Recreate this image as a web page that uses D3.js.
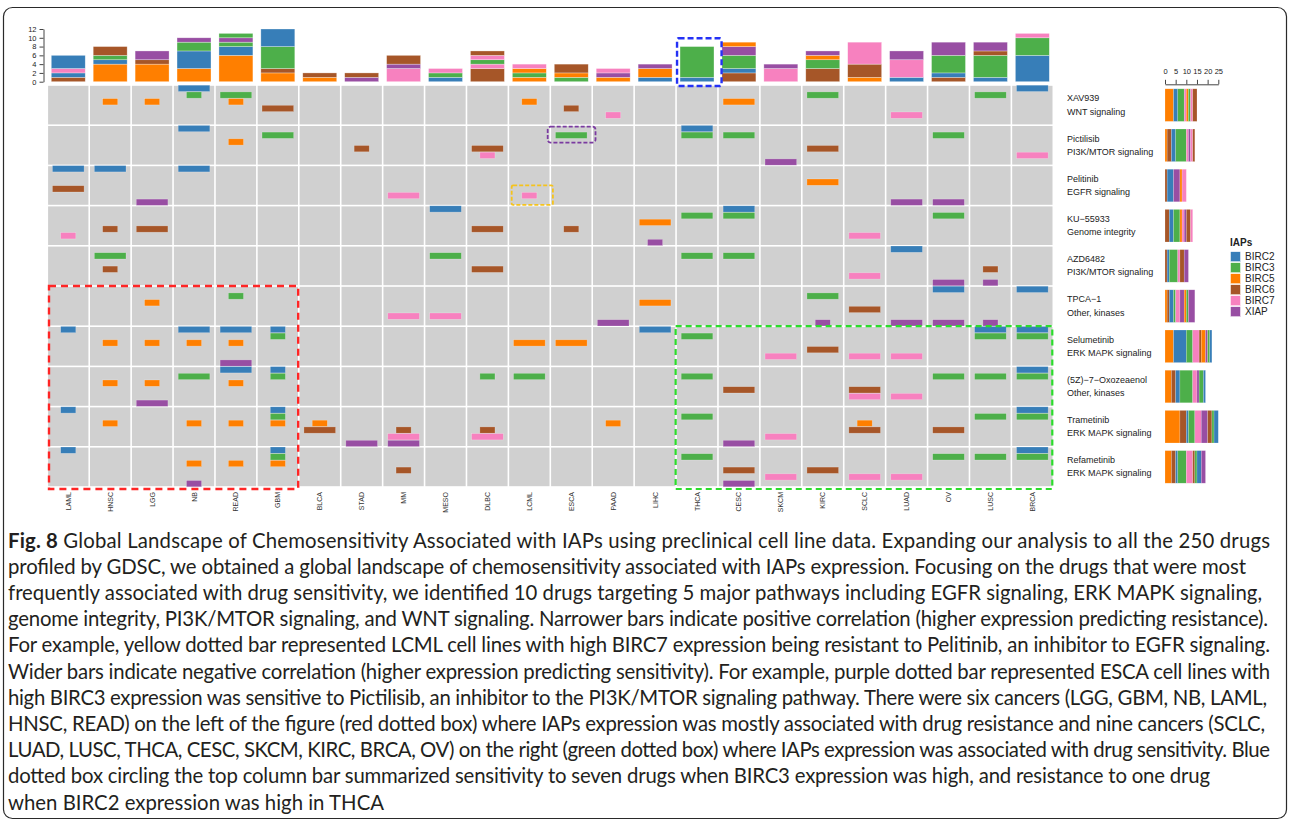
<!DOCTYPE html>
<html><head><meta charset="utf-8">
<script src="https://cdn.jsdelivr.net/npm/d3@7"></script>
<style>body{margin:0;background:#fff;} svg{display:block;}</style>
</head><body><svg id="c" width="1290" height="827"></svg>
<script>
// ---------------- DATA ----------------
const cancers = ["LAML","HNSC","LGG","NB","READ","GBM","BLCA","STAD","MM","MESO","DLBC","LCML","ESCA","PAAD","LIHC","THCA","CESC","SKCM","KIRC","SCLC","LUAD","OV","LUSC","BRCA"];
const drugs = ["XAV939","Pictilisib","Pelitinib","KU\u221255933","AZD6482","TPCA\u22121","Selumetinib","(5Z)\u22127\u2212Oxozeaenol","Trametinib","Refametinib"];
const pathways = ["WNT signaling","PI3K/MTOR signaling","EGFR signaling","Genome integrity","PI3K/MTOR signaling","Other, kinases","ERK MAPK signaling","Other, kinases","ERK MAPK signaling","ERK MAPK signaling"];
const iaps = ["BIRC2","BIRC3","BIRC5","BIRC6","BIRC7","XIAP"];
const iapColors = ["#377eb8","#4daf4a","#ff7f00","#a65628","#f781bf","#984ea3"];
// S = wider bar (negative correlation, sensitivity), R = narrower bar (positive correlation, resistance)
const hitsXAV939 = [["HNSC","BIRC5","R"],["LGG","BIRC5","R"],["NB","BIRC2","S"],["NB","BIRC3","R"],["READ","BIRC3","S"],["READ","BIRC5","R"],["GBM","BIRC6","S"],["LCML","BIRC5","R"],["ESCA","BIRC6","R"],["PAAD","BIRC7","R"],["CESC","BIRC5","S"],["KIRC","BIRC3","S"],["LUAD","BIRC7","S"],["LUSC","BIRC3","S"],["BRCA","BIRC2","S"]];
const hitsPictilisib = [["NB","BIRC2","S"],["READ","BIRC5","R"],["GBM","BIRC3","S"],["STAD","BIRC6","R"],["DLBC","BIRC6","S"],["DLBC","BIRC7","R"],["ESCA","BIRC3","S"],["THCA","BIRC2","S"],["THCA","BIRC3","S"],["CESC","BIRC3","S"],["SKCM","XIAP","S"],["KIRC","BIRC6","S"],["OV","BIRC3","S"],["BRCA","BIRC7","S"]];
const hitsPelitinib = [["LAML","BIRC2","S"],["LAML","BIRC6","S"],["HNSC","BIRC2","S"],["LGG","XIAP","S"],["NB","BIRC2","S"],["MM","BIRC7","S"],["LCML","BIRC7","R"],["KIRC","BIRC5","S"],["LUAD","XIAP","S"],["OV","XIAP","S"]];
const hitsKU55933 = [["LAML","BIRC7","R"],["HNSC","BIRC6","R"],["LGG","BIRC6","S"],["MESO","BIRC2","S"],["DLBC","BIRC6","S"],["ESCA","BIRC6","R"],["LIHC","BIRC5","S"],["LIHC","XIAP","R"],["THCA","BIRC3","S"],["CESC","BIRC2","S"],["CESC","BIRC3","S"],["SCLC","BIRC7","S"],["OV","BIRC3","S"]];
const hitsAZD6482 = [["HNSC","BIRC3","S"],["HNSC","BIRC6","R"],["MESO","BIRC3","S"],["DLBC","BIRC6","S"],["THCA","BIRC3","S"],["CESC","BIRC3","S"],["SCLC","BIRC7","S"],["LUAD","BIRC2","S"],["OV","XIAP","S"],["LUSC","BIRC6","R"],["LUSC","XIAP","R"]];
const hitsTPCA1 = [["LGG","BIRC5","R"],["READ","BIRC3","R"],["MM","BIRC7","S"],["MESO","BIRC7","S"],["PAAD","XIAP","S"],["LIHC","BIRC5","S"],["KIRC","BIRC3","S"],["KIRC","XIAP","R"],["SCLC","BIRC6","S"],["LUAD","XIAP","S"],["OV","BIRC2","S"],["OV","XIAP","S"],["LUSC","XIAP","R"],["BRCA","BIRC2","S"]];
const hitsSelumetinib = [["LAML","BIRC2","R"],["HNSC","BIRC5","R"],["LGG","BIRC5","R"],["NB","BIRC2","S"],["NB","BIRC5","R"],["READ","BIRC2","S"],["READ","BIRC5","R"],["READ","XIAP","S"],["GBM","BIRC2","R"],["GBM","BIRC3","R"],["LCML","BIRC5","S"],["ESCA","BIRC5","S"],["LIHC","BIRC2","S"],["THCA","BIRC3","S"],["SKCM","BIRC7","S"],["KIRC","BIRC6","S"],["SCLC","BIRC7","S"],["LUAD","BIRC7","S"],["LUSC","BIRC2","S"],["LUSC","BIRC3","S"],["BRCA","BIRC2","S"],["BRCA","BIRC3","S"]];
const hitsOxozeaenol = [["HNSC","BIRC5","R"],["LGG","BIRC5","R"],["LGG","XIAP","S"],["NB","BIRC3","S"],["READ","BIRC2","S"],["READ","BIRC5","R"],["GBM","BIRC2","R"],["GBM","BIRC3","R"],["DLBC","BIRC3","R"],["LCML","BIRC3","S"],["THCA","BIRC3","S"],["CESC","BIRC6","S"],["SCLC","BIRC6","S"],["SCLC","BIRC7","S"],["LUAD","BIRC7","S"],["OV","BIRC3","S"],["LUSC","BIRC3","S"],["BRCA","BIRC2","S"],["BRCA","BIRC3","S"]];
const hitsTrametinib = [["LAML","BIRC2","R"],["HNSC","BIRC5","R"],["NB","BIRC5","R"],["READ","BIRC5","R"],["GBM","BIRC2","R"],["GBM","BIRC3","R"],["GBM","BIRC5","R"],["BLCA","BIRC5","R"],["BLCA","BIRC6","S"],["STAD","XIAP","S"],["MM","BIRC6","R"],["MM","BIRC7","S"],["MM","XIAP","S"],["DLBC","BIRC6","R"],["DLBC","BIRC7","S"],["PAAD","BIRC5","R"],["THCA","BIRC3","S"],["CESC","XIAP","S"],["SKCM","BIRC7","S"],["SCLC","BIRC5","R"],["SCLC","BIRC6","S"],["OV","BIRC6","S"],["LUSC","BIRC3","S"],["BRCA","BIRC2","S"],["BRCA","BIRC3","S"]];
const hitsRefametinib = [["LAML","BIRC2","R"],["NB","BIRC5","R"],["NB","XIAP","R"],["READ","BIRC5","R"],["GBM","BIRC2","R"],["GBM","BIRC3","R"],["GBM","BIRC5","R"],["MM","BIRC6","R"],["THCA","BIRC3","S"],["CESC","BIRC6","S"],["CESC","XIAP","S"],["SKCM","BIRC7","S"],["KIRC","BIRC6","S"],["SCLC","BIRC7","S"],["LUAD","BIRC7","S"],["OV","BIRC3","S"],["LUSC","BIRC3","S"],["BRCA","BIRC2","S"],["BRCA","BIRC3","S"]];
const rowHits = [hitsXAV939,hitsPictilisib,hitsPelitinib,hitsKU55933,hitsAZD6482,hitsTPCA1,hitsSelumetinib,hitsOxozeaenol,hitsTrametinib,hitsRefametinib];

// top column bars: stacked segments from bottom [IAP, count], aligned with cancers
const columnStacks = [
 [["BIRC6",1],["BIRC2",1],["BIRC7",1],["BIRC2",3]],
 [["BIRC5",4],["BIRC2",1],["BIRC3",1],["BIRC6",2]],
 [["BIRC5",4],["BIRC6",1],["XIAP",2]],
 [["BIRC5",3],["BIRC2",4],["BIRC3",2],["XIAP",1]],
 [["BIRC5",6],["BIRC2",2],["BIRC3",1],["XIAP",1],["BIRC3",1]],
 [["BIRC5",2],["BIRC6",1],["BIRC3",5],["BIRC2",4]],
 [["BIRC5",1],["BIRC6",1]],
 [["XIAP",1],["BIRC6",1]],
 [["BIRC7",3],["XIAP",1],["BIRC6",2]],
 [["BIRC2",1],["BIRC3",1],["BIRC7",1]],
 [["BIRC6",3],["BIRC7",1],["BIRC3",1],["BIRC7",1],["BIRC6",1]],
 [["BIRC5",1],["BIRC3",1],["BIRC5",1],["BIRC7",1]],
 [["BIRC3",1],["BIRC5",1],["BIRC6",2]],
 [["BIRC5",1],["XIAP",1],["BIRC7",1]],
 [["BIRC2",1],["BIRC5",2],["XIAP",1]],
 [["BIRC2",1],["BIRC3",7]],
 [["BIRC6",2],["BIRC2",1],["BIRC3",3],["XIAP",2],["BIRC5",1]],
 [["BIRC7",3],["XIAP",1]],
 [["BIRC6",3],["BIRC3",2],["BIRC5",1],["XIAP",1]],
 [["BIRC5",1],["BIRC6",3],["BIRC7",5]],
 [["BIRC2",1],["BIRC7",4],["XIAP",2]],
 [["BIRC6",1],["BIRC2",1],["BIRC3",4],["XIAP",3]],
 [["BIRC2",1],["BIRC3",5],["BIRC6",1],["XIAP",2]],
 [["BIRC2",6],["BIRC3",4],["BIRC7",1]]
];
// right row bars: stacked segments from left [IAP, count], aligned with drugs
const rowStacks = [
 [["BIRC5",4],["BIRC2",2],["BIRC3",3],["BIRC7",1],["BIRC5",1],["BIRC3",1],["BIRC7",1],["BIRC6",2]],
 [["BIRC5",1],["BIRC6",2],["BIRC2",2],["BIRC3",5],["BIRC7",1],["XIAP",1],["BIRC7",1],["BIRC6",1]],
 [["BIRC6",1],["BIRC2",3],["XIAP",3],["BIRC5",1],["BIRC7",2]],
 [["BIRC6",2],["BIRC2",2],["BIRC3",3],["BIRC5",1],["BIRC7",1],["XIAP",1],["BIRC6",2],["BIRC7",1]],
 [["BIRC6",1],["BIRC2",1],["BIRC3",4],["BIRC7",1],["BIRC6",2],["XIAP",2]],
 [["BIRC5",1],["BIRC6",1],["BIRC2",2],["BIRC3",1],["BIRC7",2],["XIAP",2],["BIRC5",1],["BIRC3",1],["XIAP",3]],
 [["BIRC5",4],["BIRC2",6],["BIRC3",3],["BIRC7",3],["BIRC6",1],["BIRC5",2],["XIAP",1],["BIRC3",1],["BIRC2",1]],
 [["BIRC5",3],["BIRC6",2],["BIRC2",2],["BIRC3",6],["BIRC7",2],["XIAP",1],["BIRC3",2],["BIRC2",1]],
 [["BIRC5",7],["BIRC6",3],["BIRC2",1],["BIRC3",3],["BIRC7",3],["XIAP",3],["BIRC6",2],["BIRC3",1],["BIRC2",2]],
 [["BIRC5",3],["BIRC6",2],["BIRC2",1],["BIRC3",4],["BIRC7",3],["BIRC6",1],["BIRC3",1],["BIRC2",2],["XIAP",2]]
];
const topTicks = [0,2,4,6,8,10,12];
const miniTicks = [0,5,10,15,20,25];
const captionBold = "Fig. 8";
const captionLines = [
 " Global Landscape of Chemosensitivity Associated with IAPs using preclinical cell line data. Expanding our analysis to all the 250 drugs",
 "profiled by GDSC, we obtained a global landscape of chemosensitivity associated with IAPs expression. Focusing on the drugs that were most",
 "frequently associated with drug sensitivity, we identified 10 drugs targeting 5 major pathways including EGFR signaling, ERK MAPK signaling,",
 "genome integrity, PI3K/MTOR signaling, and WNT signaling. Narrower bars indicate positive correlation (higher expression predicting resistance).",
 "For example, yellow dotted bar represented LCML cell lines with high BIRC7 expression being resistant to Pelitinib, an inhibitor to EGFR signaling.",
 "Wider bars indicate negative correlation (higher expression predicting sensitivity). For example, purple dotted bar represented ESCA cell lines with",
 "high BIRC3 expression was sensitive to Pictilisib, an inhibitor to the PI3K/MTOR signaling pathway. There were six cancers (LGG, GBM, NB, LAML,",
 "HNSC, READ) on the left of the figure (red dotted box) where IAPs expression was mostly associated with drug resistance and nine cancers (SCLC,",
 "LUAD, LUSC, THCA, CESC, SKCM, KIRC, BRCA, OV) on the right (green dotted box) where IAPs expression was associated with drug sensitivity. Blue",
 "dotted box circling the top column bar summarized sensitivity to seven drugs when BIRC3 expression was high, and resistance to one drug",
 "when BIRC2 expression was high in THCA"
];
const captionLineEnds = [1270,1246,1262,1268,1270,1270,1267,1265,1270,1210,384];

// ---------------- DRAWING ----------------
const svg = d3.select("#c");
const color = d3.scaleOrdinal().domain(iaps).range(iapColors);
const FONT = "'Liberation Sans', Arial, sans-serif";

svg.append("rect").attr("x",3.5).attr("y",7.5).attr("width",1283).attr("height",811)
  .attr("rx",9).attr("fill","none").attr("stroke","#2a2a2a").attr("stroke-width",1.2);

const x = d3.scaleBand().domain(cancers).range([47.3, 1053.3]);
const y = d3.scaleBand().domain(drugs).range([85, 487]);
const bw = x.bandwidth(), rh = y.bandwidth();
const slot = d3.scaleBand().domain(iaps).range([0, rh]);

// grid cells
const g = svg.append("g");
drugs.forEach(d => cancers.forEach(c => {
  g.append("rect").attr("x", x(c)+0.8).attr("y", y(d)+0.8)
   .attr("width", bw-1.6).attr("height", rh-1.6).attr("fill", "#d0d0d0");
}));
// grid bars
rowHits.forEach((hits, i) => {
  const d = drugs[i];
  hits.forEach(([c, iap, t]) => {
    const w = t === "S" ? bw*0.755 : bw*0.36;
    g.append("rect").attr("x", x(c) + (bw-w)/2).attr("y", y(d) + slot(iap) + 0.2)
     .attr("width", w).attr("height", slot.bandwidth() - 0.4)
     .attr("fill", color(iap)).attr("stroke", "#fff").attr("stroke-opacity", 0.35).attr("stroke-width", 0.6);
  });
});

// top stacked bars
const yTop = d3.scaleLinear().domain([0,12]).range([81.7, 29]);
const tb = svg.append("g");
columnStacks.forEach((segs, i) => {
  const c = cancers[i];
  const w = bw*0.81;
  let cum = 0;
  segs.forEach(([iap, n]) => {
    tb.append("rect").attr("x", x(c) + (bw-w)/2).attr("y", yTop(cum+n))
      .attr("width", w).attr("height", yTop(cum) - yTop(cum+n))
      .attr("fill", color(iap)).attr("stroke", "#fff").attr("stroke-opacity", 0.5).attr("stroke-width", 0.6);
    cum += n;
  });
});
const axL = svg.append("g").attr("transform", "translate(43.5,0)")
  .call(d3.axisLeft(yTop).tickValues(topTicks).tickSize(4).tickPadding(3).tickSizeOuter(0));
axL.selectAll("text").attr("font-size", 7.5).attr("font-family", FONT).attr("fill", "#222");
axL.selectAll("line,path").attr("stroke", "#444");

// column labels
svg.append("g").selectAll("text").data(cancers).join("text")
  .attr("transform", c => `translate(${x(c)+bw/2+2.5},492) rotate(-90)`)
  .attr("text-anchor", "end").attr("font-size", 7).attr("font-family", FONT).attr("fill", "#333")
  .text(c => c);

// right labels
const rl = svg.append("g");
drugs.forEach((d, i) => {
  const cy = y(d) + rh/2;
  rl.append("text").attr("x", 1067).attr("y", cy - 3.8).attr("font-size", 9).attr("font-family", FONT).attr("fill", "#222").text(d);
  rl.append("text").attr("x", 1067).attr("y", cy + 9.5).attr("font-size", 9).attr("font-family", FONT).attr("fill", "#222").text(pathways[i]);
});

// mini row bars
const xMini = d3.scaleLinear().domain([0,25]).range([1165, 1218.3]);
const mb = svg.append("g");
rowStacks.forEach((segs, i) => {
  const d = drugs[i];
  const h = rh*0.81;
  let cum = 0;
  segs.forEach(([iap, n]) => {
    mb.append("rect").attr("x", xMini(cum)).attr("y", y(d) + (rh-h)/2)
      .attr("width", xMini(cum+n) - xMini(cum)).attr("height", h)
      .attr("fill", color(iap)).attr("stroke", "#fff").attr("stroke-opacity", 0.35).attr("stroke-width", 0.5);
    cum += n;
  });
});
const axT = svg.append("g").attr("transform", "translate(0,84.3)")
  .call(d3.axisTop(xMini).tickValues(miniTicks).tickSize(4.5).tickPadding(6).tickSizeOuter(0));
axT.selectAll("text").attr("font-size", 7.5).attr("font-family", FONT).attr("fill", "#222");
axT.selectAll("line,path").attr("stroke", "#444");

// legend
const lg = svg.append("g").attr("transform", "translate(1230,0)");
lg.append("text").attr("x", 0).attr("y", 245.5).attr("font-size", 10).attr("font-weight", "bold")
  .attr("font-family", FONT).attr("fill", "#222").text("IAPs");
iaps.forEach((k, i) => {
  lg.append("rect").attr("x", 0.5).attr("y", 251.7 + i*11).attr("width", 10).attr("height", 10)
    .attr("fill", color(k)).attr("stroke", "#fff").attr("stroke-width", 0.5);
  lg.append("text").attr("x", 15).attr("y", 260.3 + i*11).attr("font-size", 10)
    .attr("font-family", FONT).attr("fill", "#222").text(k);
});

// dashed highlight boxes
const dash = svg.append("g").attr("fill", "none");
// blue: THCA top column bar
const thTop = yTop(d3.sum(columnStacks[cancers.indexOf("THCA")], s => s[1]));
dash.append("rect").attr("x", x("THCA")+1).attr("y", thTop - 8.3)
  .attr("width", bw+2.6).attr("height", 86 - (thTop - 8.3)).attr("rx", 1.5)
  .attr("stroke", "#2431f5").attr("stroke-width", 2.4).attr("stroke-dasharray", "6,3");
// purple: ESCA / Pictilisib / BIRC3
const py = y("Pictilisib") + slot("BIRC3");
dash.append("rect").attr("x", x("ESCA")-2.6).attr("y", py - 5.2)
  .attr("width", bw+5.9).attr("height", slot.bandwidth() + 9.2).attr("rx", 3)
  .attr("stroke", "#7a3aa0").attr("stroke-width", 1.8).attr("stroke-dasharray", "4,2");
// yellow: LCML / Pelitinib / BIRC7
const yy = y("Pelitinib") + slot("BIRC7");
dash.append("rect").attr("x", x("LCML")+3.3).attr("y", yy - 6.8)
  .attr("width", bw-0.7).attr("height", slot.bandwidth() + 12.8).attr("rx", 1.5)
  .attr("stroke", "#f5c31c").attr("stroke-width", 1.8).attr("stroke-dasharray", "4,2");
// red: left cancers, lower rows
dash.append("rect").attr("x", x("LAML")+1.7).attr("y", y("TPCA\u22121"))
  .attr("width", x("GBM")+bw - x("LAML") - 2.3).attr("height", 489 - y("TPCA\u22121"))
  .attr("stroke", "#ff2525").attr("stroke-width", 2.4).attr("stroke-dasharray", "7,5");
// green: right cancers, lower rows
dash.append("rect").attr("x", x("THCA")-0.4).attr("y", y("Selumetinib"))
  .attr("width", x("BRCA")+bw - x("THCA") - 0.6).attr("height", 489 - y("Selumetinib"))
  .attr("stroke", "#2bdc2b").attr("stroke-width", 2.2).attr("stroke-dasharray", "6,4");

// caption
const CAPFONT = "Lato, 'Open Sans', sans-serif";
const capX = 8;
const cap = svg.append("g");
const probe = cap.append("text").attr("font-size", 18).attr("font-family", CAPFONT).text(captionLines[10]);
const pw = probe.node().getComputedTextLength();
probe.remove();
const fs = 18 * (captionLineEnds[10] - capX) / pw;
captionLines.forEach((line, i) => {
  const t = cap.append("text").attr("x", capX).attr("y", 547.5 + i*26.2)
    .attr("font-size", fs).attr("font-family", CAPFONT).attr("fill", "#231f20")
    .attr("textLength", captionLineEnds[i] - capX).attr("lengthAdjust", "spacing");
  if (i === 0) t.append("tspan").attr("font-weight", "bold").text(captionBold);
  t.append("tspan").text(line);
});
</script>
</body></html>
